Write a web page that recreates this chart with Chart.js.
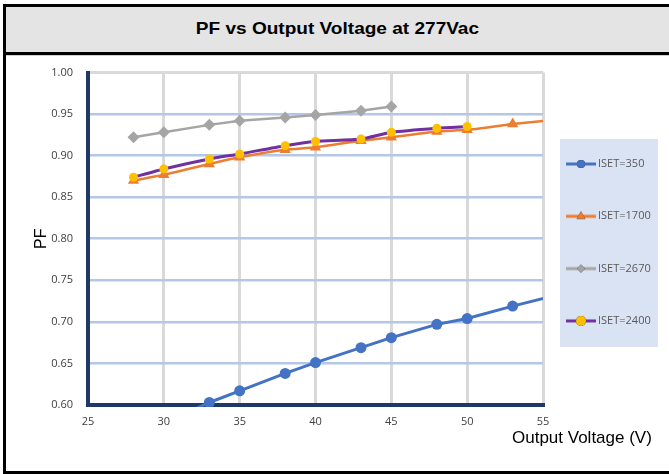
<!DOCTYPE html>
<html>
<head>
<meta charset="utf-8">
<script src="https://cdn.jsdelivr.net/npm/chart.js@4"></script>
<style>
    body { margin: 0; width: 669px; height: 474px; overflow: hidden; background: #fff; }
    .frame {
        position: absolute; left: 3px; top: 4px; width: 680px; height: 464px;
        border-left: 3px solid #000; border-top: 3px solid #000; border-bottom: 3px solid #000;
    }
    .title {
        position: absolute; left: 0; top: 0; width: 663px; height: 45px;
        background: #e4e4e4; border-bottom: 3px solid #000;
        text-align: center; line-height: 43px;
    }
    .title span {
        display: inline-block; transform: scaleX(1.12);
        font: bold 17px "Liberation Sans", Arial, sans-serif; color: #000;
    }
    .title-shadow { position: absolute; left: 0; top: 48px; width: 680px; height: 1px; background: #d0d0d0; }
    #chart { position: absolute; left: 6px; top: 56px; }
</style>
</head>
<body>
<div class="frame">
    <div class="title"><span>PF vs Output Voltage at 277Vac</span></div>
    <div class="title-shadow"></div>
</div>
<canvas id="chart" width="663" height="415"></canvas>
<script>
// Данные с графика (напряжение, В -> коэффициент мощности)
const volts = [28, 30, 33, 35, 38, 40, 43, 45, 48, 50, 53, 58];
const seriesNames = ['ISET=350', 'ISET=1700', 'ISET=2670', 'ISET=2400'];
const pf350  = [null, 0.578, 0.603, 0.617, 0.638, 0.651, 0.669, 0.681, 0.697, 0.704, 0.719, 0.742];
const pf1700 = [0.870, 0.877, 0.890, 0.898, 0.907, 0.910, 0.918, 0.922, 0.929, 0.931, 0.938, 0.947];
const pf2670 = [0.922, 0.928, 0.937, 0.942, 0.946, 0.949, 0.954, 0.959, null, null, null, null];
const pf2400 = [0.874, 0.884, 0.896, 0.902, 0.912, 0.917, 0.920, 0.928, 0.933, 0.935, null, null];
const xTicks = [25, 30, 35, 40, 45, 50, 55];
const yTicks = [0.60, 0.65, 0.70, 0.75, 0.80, 0.85, 0.90, 0.95, 1.00];

function points(values) {
    return volts.map((v, i) => ({ x: v, y: values[i] })).filter(p => p.y !== null);
}

// Значок легенды: линия с маркером посередине
function legendIcon(color, markerColor, style, size, lineWidth) {
    const c = document.createElement('canvas');
    c.width = 30; c.height = 14;
    const g = c.getContext('2d');
    g.strokeStyle = color;
    g.lineWidth = lineWidth;
    g.beginPath(); g.moveTo(0, 7); g.lineTo(30, 7); g.stroke();
    Chart.helpers.drawPoint(g, { pointStyle: style, radius: size, borderWidth: 0 }, 15, 7);
    g.fillStyle = markerColor;
    g.fill();
    return c;
}

const legendBox = {
    id: 'legendBox',
    afterDraw(chart) {
        const ctx = chart.ctx;
        const area = chart.chartArea;
        const left = area.right + 17;
        const top = area.top + 66.5;
        ctx.save();
        ctx.fillStyle = '#dae3f3';
        ctx.fillRect(left, top, 98, 208);
        ctx.font = '11px "Open Sans", sans-serif';
        ctx.fillStyle = '#595959';
        ctx.textBaseline = 'middle';
        chart.data.datasets.forEach((ds, i) => {
            const y = top + 25 + i * 52.3;
            ctx.drawImage(ds.icon, left + 6, y - 7);
            ctx.fillText(ds.label, left + 38, y);
        });
        // подпись оси X справа под осью
        const xs = chart.scales.x;
        ctx.font = '17px "Liberation Sans", Arial, sans-serif';
        ctx.fillStyle = '#000';
        ctx.textBaseline = 'alphabetic';
        ctx.fillText('Output Voltage (V)', xs.right - 31, area.bottom + 38);
        ctx.restore();
    }
};

const blue = '#4472c4', orange = '#ed7d31', gray = '#a5a5a5', purple = '#7030a0', yellow = '#ffc000';

new Chart(document.getElementById('chart'), {
    type: 'line',
    data: {
        datasets: [
            {
                label: seriesNames[0], data: points(pf350), order: 3,
                borderColor: blue, backgroundColor: blue, borderWidth: 3,
                pointStyle: 'circle', pointRadius: 5.5, pointBorderWidth: 0,
                clip: { left: 0, top: 0, right: 0, bottom: 2 },
                icon: legendIcon(blue, blue, 'circle', 4, 3)
            },
            {
                label: seriesNames[1], data: points(pf1700), order: 2, tension: 0.2,
                borderColor: orange, backgroundColor: orange, borderWidth: 2.5,
                pointStyle: 'triangle', pointRadius: 6.5, pointBorderWidth: 0,
                icon: legendIcon(orange, orange, 'triangle', 5, 3)
            },
            {
                label: seriesNames[2], data: points(pf2670), order: 1,
                borderColor: gray, backgroundColor: gray, borderWidth: 2.5,
                pointStyle: 'rectRot', pointRadius: 6, pointBorderWidth: 0,
                icon: legendIcon(gray, gray, 'rectRot', 4, 3)
            },
            {
                label: seriesNames[3], data: points(pf2400), order: 0, tension: 0.2,
                borderColor: purple, backgroundColor: yellow, borderWidth: 3,
                pointStyle: 'circle', pointRadius: 4.5, pointBorderWidth: 0,
                icon: legendIcon(purple, yellow, 'circle', 5, 3)
            }
        ]
    },
    options: {
        responsive: false,
        animation: false,
        layout: { padding: { left: 0, top: 16.5, right: 126, bottom: 0 } },
        plugins: { legend: { display: false }, tooltip: { enabled: false } },
        scales: {
            x: {
                type: 'linear', min: 25, max: 55,
                afterBuildTicks: s => { s.ticks = xTicks.map(v => ({ value: v })); },
                afterFit: s => { s.height = 66; s.paddingLeft = 0; s.paddingRight = 0; },
                grid: { color: '#d9d9d9', lineWidth: 3, drawTicks: false },
                border: { color: '#1f3864', width: 4 },
                ticks: { padding: 10, color: '#404040', font: { family: 'Open Sans', size: 11 } }
            },
            y: {
                min: 0.6, max: 1.0,
                afterBuildTicks: s => { s.ticks = yTicks.map(v => ({ value: v })); },
                afterFit: s => { s.width = 82; s.paddingTop = 0; s.paddingBottom = 0; },
                grid: {
                    color: c => (c.tick && c.tick.value > 0.999) ? '#d9d9d9' : '#b4c7e7',
                    lineWidth: c => (c.tick && c.tick.value > 0.999) ? 3 : 2.5,
                    drawTicks: false
                },
                border: { color: '#1f3864', width: 4 },
                ticks: {
                    padding: 15, color: '#404040', font: { family: 'Open Sans', size: 11 },
                    callback: v => v.toFixed(2)
                },
                title: {
                    display: true, text: 'PF', color: '#000', padding: { top: 26 },
                    font: { family: 'Liberation Sans', size: 16 }
                }
            }
        }
    },
    plugins: [legendBox]
});
</script>
</body>
</html>
